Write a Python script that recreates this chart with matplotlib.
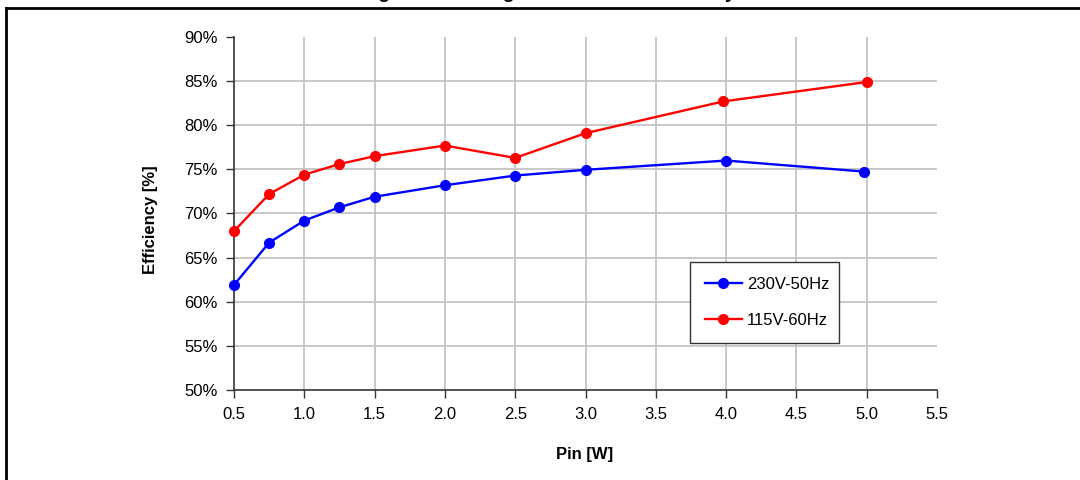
import matplotlib
matplotlib.use("Agg")
import matplotlib.pyplot as plt
from matplotlib.lines import Line2D

plt.rcParams['font.family'] = ['Liberation Sans', 'DejaVu Sans']

title = "Light Load Range Conversion Efficiency"
x_label = "Pin [W]"
y_label = "Efficiency [%]"

pin_230 = [0.5, 0.75, 1.0, 1.25, 1.5, 2.0, 2.5, 3.0, 4.0, 4.98]
eff_230 = [61.9, 66.7, 69.2, 70.7, 71.9, 73.2, 74.3, 74.95, 76.0, 74.75]
pin_115 = [0.5, 0.75, 1.0, 1.25, 1.5, 2.0, 2.5, 3.0, 3.98, 5.0]
eff_115 = [68.0, 72.2, 74.4, 75.6, 76.5, 77.7, 76.3, 79.1, 82.7, 84.9]
label_230 = "230V-50Hz"
label_115 = "115V-60Hz"

x_ticks = [0.5, 1.0, 1.5, 2.0, 2.5, 3.0, 3.5, 4.0, 4.5, 5.0, 5.5]
y_ticks = [50, 55, 60, 65, 70, 75, 80, 85, 90]

W, H = 1080, 480
fig = plt.figure(figsize=(W / 100, H / 100), dpi=100)
ax = fig.add_axes([234 / W, 1 - 390 / H, (937 - 234) / W, (390 - 37) / H])

ax.plot(pin_230, eff_230, color='#0000ff', lw=1.7, marker='o', ms=7,
        label=label_230, zorder=3, clip_on=False)
ax.plot(pin_115, eff_115, color='#ff0000', lw=1.7, marker='o', ms=7,
        label=label_115, zorder=3, clip_on=False)

ax.set_xlim(0.5, 5.5)
ax.set_ylim(50, 90)
ax.set_xticks(x_ticks)
ax.set_xticklabels([f"{v:.1f}" for v in x_ticks])
ax.set_yticks(y_ticks)
ax.set_yticklabels([f"{v}%" for v in y_ticks])
ax.tick_params(axis='both', labelsize=12, length=6, width=1, color='#333333',
               direction='out', pad=6)

ax.grid(True, color='#c4c4c4', lw=1.3)
ax.set_axisbelow(True)
ax.get_ygridlines()[-1].set_visible(False)
ax.get_ygridlines()[0].set_visible(False)
ax.get_xgridlines()[-1].set_visible(False)
ax.get_xgridlines()[0].set_visible(False)

for s in ['top', 'right']:
    ax.spines[s].set_visible(False)
for s in ['left', 'bottom']:
    ax.spines[s].set_color('#333333')
    ax.spines[s].set_linewidth(1.2)

fig.text(585 / W, 1 - 455 / H, x_label, ha='center', va='center',
         fontsize=12, fontweight='bold')
fig.text(150 / W, 1 - 220 / H, y_label, ha='center', va='center',
         rotation=90, fontsize=12, fontweight='bold')

leg = ax.legend(loc='upper left',
                bbox_to_anchor=((690 - 234) / 703, (390 - 262) / 353, 149 / 703, 0.0),
                mode='expand', fontsize=12, frameon=True, fancybox=False,
                framealpha=1, edgecolor='#333333', handlelength=2.2,
                handletextpad=0.3, labelspacing=1.25, borderpad=0.9,
                borderaxespad=0)
leg.get_frame().set_linewidth(1.0)

# title sits mostly above the figure edge, as in the reference (only descenders show)
fig.text(548 / W, 1 + 1.5 / H, title, ha='center', va='baseline',
         fontsize=14, fontweight='bold')

fig.add_artist(Line2D([6 / W, 6 / W], [0, 1 - 7.5 / H], transform=fig.transFigure,
                      color='black', lw=2, solid_capstyle='projecting'))
fig.add_artist(Line2D([6 / W, 1], [1 - 7.5 / H, 1 - 7.5 / H], transform=fig.transFigure,
                      color='black', lw=2, solid_capstyle='projecting'))

fig.savefig("out.png", dpi=100)
